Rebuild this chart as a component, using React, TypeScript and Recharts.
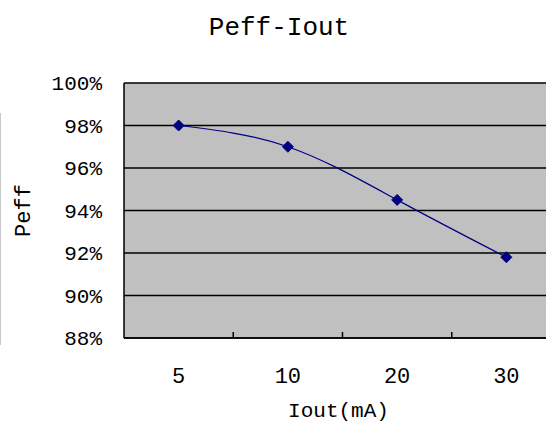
import { CartesianGrid, Line, LineChart, XAxis, YAxis } from "recharts";

const categories = ["5", "10", "20", "30"];
const peffValues = [98, 97, 94.5, 91.8];
const yTicks = [88, 90, 92, 94, 96, 98, 100];
const xTicks = [0.5, 1, 1.5, 2, 2.5, 3, 3.5];

const data = categories.map((c, i) => ({ x: i + 0.5, label: c, peff: peffValues[i] }));

const FONT = '"Liberation Mono", monospace';
const NAVY = "#000080";

function Diamond(props: any) {
  const { cx, cy, index } = props;
  if (cx == null || cy == null) return null;
  const r = 5.5;
  return (
    <polygon
      key={`d-${index}`}
      points={`${cx},${cy - r} ${cx + r},${cy} ${cx},${cy + r} ${cx - r},${cy}`}
      fill={NAVY}
      stroke={NAVY}
    />
  );
}

// category labels sit at band centres, separator ticks at band edges
function XTick(props: any) {
  const { x, y, payload } = props;
  const v = payload.value as number;
  if (Number.isInteger(v)) {
    const axisY = y - 27;
    return <line x1={x} x2={x} y1={axisY} y2={axisY - 6} stroke="#000" strokeWidth={1.5} />;
  }
  return (
    <text x={x} y={y + 18} textAnchor="middle" fontFamily={FONT} fontSize={22} fill="#000">
      {categories[Math.floor(v)]}
    </text>
  );
}

export default function App() {
  return (
    <div
      style={{
        position: "absolute",
        left: 0,
        top: 0,
        width: 546,
        height: 425,
        overflow: "hidden",
        background: "#fff",
      }}
    >
      <div
        style={{
          position: "absolute",
          left: 279,
          top: 15,
          transform: "translateX(-50%)",
          fontFamily: FONT,
          fontSize: 26,
          lineHeight: "26px",
          whiteSpace: "nowrap",
          color: "#000",
        }}
      >
        Peff-Iout
      </div>
      <div style={{ position: "absolute", left: 0, top: 113, width: 1, height: 232, background: "#c8c8c8" }} />
      <LineChart width={570} height={425} data={data} margin={{ top: 83, right: 9, bottom: 0, left: 0 }}>
        <CartesianGrid vertical={false} stroke="#000" strokeWidth={1.5} fill="#c0c0c0" fillOpacity={1} />
        <XAxis
          dataKey="x"
          type="number"
          domain={[0, 4]}
          ticks={xTicks}
          interval={0}
          height={87}
          tickSize={0}
          tickMargin={27}
          tickLine={false}
          axisLine={{ stroke: "#000", strokeWidth: 1.5 }}
          tick={<XTick />}
          label={{
            value: "Iout(mA)",
            position: "insideBottom",
            offset: 8,
            dx: -4,
            style: { fontFamily: FONT, fontSize: 21, fill: "#000" },
          }}
        />
        <YAxis
          type="number"
          domain={[88, 100]}
          ticks={yTicks}
          interval={0}
          width={124}
          tickSize={0}
          tickMargin={22}
          tickLine={false}
          axisLine={{ stroke: "#000", strokeWidth: 1.5 }}
          tickFormatter={(v: number) => `${v}%`}
          tick={{ fontFamily: FONT, fontSize: 21, fill: "#000" }}
          label={{
            value: "Peff",
            angle: -90,
            position: "insideLeft",
            offset: 22,
            style: { fontFamily: FONT, fontSize: 22, fill: "#000", textAnchor: "middle" },
          }}
        />
        <Line
          dataKey="peff"
          type="natural"
          stroke={NAVY}
          strokeWidth={1.2}
          dot={<Diamond />}
          activeDot={false}
          isAnimationActive={false}
        />
      </LineChart>
    </div>
  );
}
